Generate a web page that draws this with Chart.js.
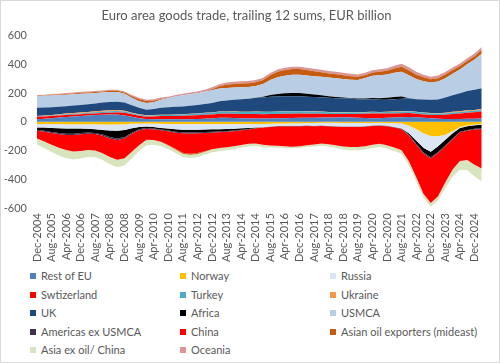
<!DOCTYPE html>
<html><head><meta charset="utf-8">
<script src="https://cdn.jsdelivr.net/npm/chart.js@4.4.1/dist/chart.umd.min.js"></script>
<style>
html,body{margin:0;padding:0;background:#fff;}
#wrap{position:relative;width:500px;height:363px;overflow:hidden;font-family:Lato,"Open Sans",sans-serif;}
#frame{position:absolute;left:0;top:0;width:500px;height:363px;box-sizing:border-box;border:1px solid #d9d9d9;pointer-events:none;}
#c{position:absolute;left:0;top:0;}
.item{position:absolute;font-size:11px;color:#595959;white-space:nowrap;line-height:12px;height:12px;}
.sw{display:inline-block;width:6px;height:6px;margin-right:5px;vertical-align:1px;}
</style></head>
<body>
<div id="wrap">
<canvas id="c" width="500" height="267"></canvas>
<div id="legend"></div>
<div id="frame"></div>
</div>
<script>
const categories = ["Dec-2004","Apr-2005","Aug-2005","Dec-2005","Apr-2006","Aug-2006","Dec-2006","Apr-2007","Aug-2007","Dec-2007","Apr-2008","Aug-2008","Dec-2008","Apr-2009","Aug-2009","Dec-2009","Apr-2010","Aug-2010","Dec-2010","Apr-2011","Aug-2011","Dec-2011","Apr-2012","Aug-2012","Dec-2012","Apr-2013","Aug-2013","Dec-2013","Apr-2014","Aug-2014","Dec-2014","Apr-2015","Aug-2015","Dec-2015","Apr-2016","Aug-2016","Dec-2016","Apr-2017","Aug-2017","Dec-2017","Apr-2018","Aug-2018","Dec-2018","Apr-2019","Aug-2019","Dec-2019","Apr-2020","Aug-2020","Dec-2020","Apr-2021","Aug-2021","Dec-2021","Apr-2022","Aug-2022","Dec-2022","Apr-2023","Aug-2023","Dec-2023","Apr-2024","Aug-2024","Dec-2024","Apr-2025"];

const tickLabels = ["Dec-2004","Aug-2005","Apr-2006","Dec-2006","Aug-2007","Apr-2008","Dec-2008","Aug-2009","Apr-2010","Dec-2010","Aug-2011","Apr-2012","Dec-2012","Aug-2013","Apr-2014","Dec-2014","Aug-2015","Apr-2016","Dec-2016","Aug-2017","Apr-2018","Dec-2018","Aug-2019","Apr-2020","Dec-2020","Aug-2021","Apr-2022","Dec-2022","Aug-2023","Apr-2024","Dec-2024"];

const seriesNames = ["Rest of EU","Norway","Russia","Swtizerland","Turkey","Ukraine","UK","Africa","USMCA","Americas ex USMCA","China","Asian oil exporters (mideast)","Asia ex oil/ China","Oceania"];

const restOfEU = [18,21,25,30,34,37,40,44,47,49,51,52,45,35,25,20,19,19,18,18,18,19,20,22,24,28,28,27,25,24,24,23,24,25,26,27,28,28,29,30,30,31,32,31,29,27,25,26,28,30,32,34,32,28,25,22,20,20,20,22,22,24];
const norway = [-14,-14,-15,-15,-16,-16,-16,-16,-17,-18,-19,-19,-17,-13,-11,-11,-12,-13,-14,-14,-14,-14,-14,-14,-14,-14,-14,-14,-14,-14,-14,-14,-13,-12,-11,-10,-9,-8,-8,-7,-7,-7,-8,-8,-8,-8,-8,-7,-8,-10,-12,-25,-50,-80,-98,-100,-90,-65,-35,-25,-18,-15];
const russia = [-25,-26,-28,-29,-30,-31,-31,-32,-35,-38,-41,-43,-40,-32,-24,-21,-24,-29,-33,-38,-41,-41,-40,-39,-38,-37,-36,-34,-31,-28,-25,-23,-20,-16,-16,-17,-18,-18,-19,-19,-21,-23,-25,-25,-24,-22,-18,-17,-19,-26,-35,-55,-80,-100,-110,-70,-35,-15,-8,-6,-5,-5];
const switzerland = [18,17,16,15,14,13,13,12,12,12,12,13,18,18,18,16,18,21,22,23,24,25,26,27,27,28,28,29,29,30,30,30,30,30,30,30,30,29,28,27,25,24,23,24,26,30,34,32,30,29,28,28,25,24,23,25,30,35,38,42,45,48];
const turkey = [3,3,4,4,5,6,6,7,8,9,10,10,9,7,7,7,8,8,8,9,9,10,11,12,13,14,14,15,15,15,16,16,16,16,16,16,16,15,14,13,12,11,11,10,10,9,9,9,10,10,11,11,11,11,11,10,10,10,10,10,10,10];
const ukraine = [2,3,3,4,5,5,6,6,6,7,7,7,6,3,3,3,2,2,2,2,2,2,2,2,2,2,2,2,2,2,2,1,1,1,2,2,2,2,2,2,2,2,2,2,2,2,2,2,2,3,3,3,2,2,2,3,4,5,6,6,6,7];
const uk = [58,56,54,52,51,52,53,54,55,57,58,58,57,52,45,39,42,48,52,54,54,56,58,62,66,72,76,80,86,90,95,100,103,104,104,103,102,101,100,99,98,97,96,93,90,88,87,85,84,86,87,88,88,90,92,95,105,115,125,135,140,145];
const africa = [-16,-22,-28,-33,-37,-36,-31,-26,-25,-32,-45,-53,-48,-30,-16,-11,-10,-11,-13,-16,-18,-19,-19,-18,-17,-16,-14,-12,-10,-8,-3,5,12,18,21,23,22,20,17,14,11,8,6,5,5,7,9,11,13,15,16,-8,-22,-32,-38,-40,-38,-35,-25,-25,-25,-25];
const usmca = [80,81,82,81,80,79,78,75,72,70,69,67,60,52,46,46,48,56,62,70,78,80,82,85,88,88,88,86,84,82,82,88,105,117,122,126,127,128,128,129,130,130,128,128,130,142,155,160,162,168,172,160,140,128,120,125,135,150,165,185,210,240];
const americasExUSMCA = [-6,-6,-7,-7,-8,-8,-8,-8,-8,-9,-10,-11,-10,-8,-7,-6,-6,-6,-6,-7,-7,-7,-7,-6,-6,-5,-5,-5,-4,-4,-3,-3,-3,-3,-3,-3,-3,-3,-3,-3,-3,-3,-3,-3,-3,-3,-3,-3,-3,-4,-5,-6,-7,-8,-8,-7,-7,-6,-5,-5,-5,-5];
const china = [-55,-68,-82,-96,-105,-115,-116,-114,-115,-121,-130,-138,-138,-125,-105,-76,-74,-80,-95,-112,-135,-140,-136,-128,-115,-110,-108,-105,-102,-99,-106,-120,-128,-135,-140,-143,-140,-134,-127,-122,-124,-130,-136,-139,-140,-136,-130,-126,-132,-138,-145,-180,-225,-280,-310,-300,-250,-210,-200,-205,-245,-275];
const asianOilExporters = [3,3,4,4,5,5,6,6,7,8,9,9,10,12,14,14,10,5,-4,-6,-7,-8,-7,-2,6,15,22,24,25,25,26,28,33,38,40,41,40,37,34,31,29,28,27,25,22,20,22,24,26,30,34,33,30,27,23,24,25,25,24,24,24,26];
const asiaExOilChina = [-41,-46,-50,-54,-57,-56,-52,-48,-46,-47,-50,-51,-50,-46,-40,-37,-33,-28,-26,-24,-23,-23,-23,-22,-22,-22,-21,-20,-19,-18,-17,-16,-15,-14,-12,-11,-11,-12,-14,-15,-17,-19,-21,-22,-23,-23,-22,-22,-23,-24,-25,-27,-28,-28,-27,-30,-40,-50,-60,-68,-80,-90];
const oceania = [5,5,6,6,7,7,7,7,7,7,7,7,7,8,9,9,10,10,11,11,11,12,12,13,14,15,16,16,16,16,16,16,16,16,16,16,16,16,17,17,17,17,17,16,16,16,16,17,18,20,22,22,20,18,18,18,18,18,18,18,18,20];

const seriesValues = [restOfEU,norway,russia,switzerland,turkey,ukraine,uk,africa,usmca,americasExUSMCA,china,asianOilExporters,asiaExOilChina,oceania];
const seriesColors = ["#4F81BD","#FFC000","#DCE6F2","#FF0000","#4BACC6","#F79646","#1F497D","#000000","#B9CDE5","#403152","#FF0000","#C55A11","#D7E4BD","#DA9694"];

const n = seriesNames.length;
const datasets = [];
// positive parts, stacked upward from zero
for (let j = 0; j < n; j++) {
  datasets.push({
    label: seriesNames[j],
    data: seriesValues[j].map(v => v > 0 ? v : 0),
    backgroundColor: seriesColors[j],
    borderWidth: 0, pointRadius: 0, pointHoverRadius: 0, tension: 0,
    stack: 'pos', fill: j === 0 ? 'origin' : '-1'
  });
}
// negative parts, stacked downward from zero
for (let j = 0; j < n; j++) {
  datasets.push({
    label: seriesNames[j] + ' (neg)',
    data: seriesValues[j].map(v => v < 0 ? v : 0),
    backgroundColor: seriesColors[j],
    borderWidth: 0, pointRadius: 0, pointHoverRadius: 0, tension: 0,
    stack: 'neg', fill: j === 0 ? 'origin' : '-1'
  });
}

const FONT = 'Lato, "Open Sans", sans-serif';
new Chart(document.getElementById('c'), {
  type: 'line',
  data: { labels: categories, datasets },
  options: {
    responsive: false, animation: false, devicePixelRatio: 1,
    layout: { padding: { left: 4, right: 11, top: 0, bottom: 0 } },
    plugins: {
      legend: { display: false },
      tooltip: { enabled: false },
      title: { display: true, text: 'Euro area goods trade, trailing 12 sums, EUR billion',
        color: '#595959', font: { family: FONT, size: 13, weight: 'normal' }, padding: { top: 8, bottom: 12 } }
    },
    scales: {
      x: {
        grid: { display: false, drawTicks: false }, border: { display: false },
        ticks: { autoSkip: false, minRotation: 90, maxRotation: 90, color: '#595959', padding: 5,
          font: { family: FONT, size: 11 },
          callback: (v, i) => tickLabels.includes(categories[i]) ? categories[i] : '' }
      },
      y: {
        stacked: true, min: -600, max: 600,
        grid: { display: false, drawTicks: false }, border: { display: false },
        afterFit: s => { s.width = 33; },
        ticks: { stepSize: 200, color: '#595959', padding: 10, font: { family: FONT, size: 11 } }
      }
    }
  }
});

// legend (3 columns, Excel order)
const leg = document.getElementById('legend');
const colX = [30, 180, 330];
const rowY = [276, 294.5, 313, 331.5, 350];
seriesNames.forEach((name, j) => {
  const d = document.createElement('div');
  d.className = 'item';
  d.style.left = colX[j % 3] + 'px';
  d.style.top = (rowY[Math.floor(j / 3)] - 6) + 'px';
  const s = document.createElement('span');
  s.className = 'sw'; s.style.background = seriesColors[j];
  d.appendChild(s);
  d.appendChild(document.createTextNode(name));
  leg.appendChild(d);
});
</script>
</body></html>
